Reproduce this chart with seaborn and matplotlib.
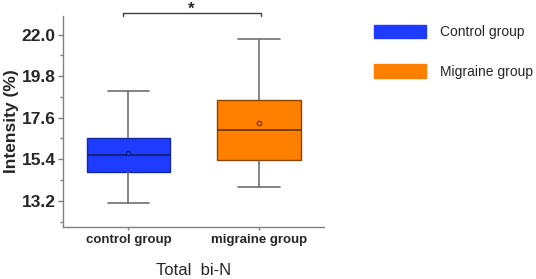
import numpy as np
import pandas as pd
import matplotlib
matplotlib.use('Agg')
import matplotlib.pyplot as plt
import seaborn as sns
from matplotlib.patches import Patch
from matplotlib.ticker import MultipleLocator

sns.set_style('ticks')
plt.rcParams['font.family'] = ['Liberation Sans', 'DejaVu Sans']

groups = ['control group', 'migraine group']
legend_labels = ['Control group', 'Migraine group']
whisker_low = [13.10, 13.92]
q1 = [14.74, 15.36]
median = [15.61, 16.95]
q3 = [16.51, 18.54]
whisker_high = [19.03, 21.77]
means = [15.75, 17.30]

face_colors = ['#1e3cff', '#ff8000']
edge_colors = ['#1428a0', '#8a4600']
median_colors = ['#142070', '#6e3800']
GRAY = '#707070'

# five values per group reproduce the read-off box statistics exactly
rows = []
for i, g in enumerate(groups):
    for v in [whisker_low[i], q1[i], median[i], q3[i], whisker_high[i]]:
        rows.append({'group': g, 'value': v})
df = pd.DataFrame(rows)

fig = plt.figure(figsize=(5.36, 2.79), dpi=100)
ax = fig.add_axes([0.118, 0.1875, 0.4865, 0.7552])

for i, g in enumerate(groups):
    sub = df[df['group'] == g]
    sns.boxplot(data=sub, x='group', y='value', order=groups, ax=ax,
                width=0.64, whis=np.inf, color=face_colors[i], saturation=1,
                linewidth=1.0, linecolor=edge_colors[i],
                boxprops=dict(facecolor=face_colors[i], edgecolor=edge_colors[i], linewidth=1.0),
                medianprops=dict(color=median_colors[i], linewidth=1.3),
                whiskerprops=dict(color=GRAY, linewidth=1.2),
                capprops=dict(color=GRAY, linewidth=1.2))
    sns.stripplot(x=[g], y=[means[i]], order=groups, ax=ax, jitter=False,
                  size=3.2, color=face_colors[i], edgecolor=median_colors[i],
                  linewidth=0.9, zorder=5)

ax.set_xlim(-0.5, 1.5)
ax.set_ylim(11.83, 22.98)
ax.yaxis.set_minor_locator(MultipleLocator(1.1))
ax.yaxis.set_major_formatter(matplotlib.ticker.FormatStrFormatter('%.1f'))
ax.set_yticks([13.2, 15.4, 17.6, 19.8, 22.0])

for s in ['top', 'right']:
    ax.spines[s].set_visible(False)
for s in ['left', 'bottom']:
    ax.spines[s].set_color('#808080')
    ax.spines[s].set_linewidth(1.0)

ax.tick_params(axis='y', which='major', length=3.5, width=1, color='#808080',
               labelsize=12.5, pad=2)
ax.tick_params(axis='y', which='minor', length=2.5, width=1, color='#808080')
ax.tick_params(axis='x', length=2.5, width=1, color='#808080', labelsize=9.5, pad=3)
for lab in ax.get_yticklabels() + ax.get_xticklabels():
    lab.set_fontweight('bold')

ax.set_xlabel('Total  bi-N', fontsize=12, labelpad=12)
ax.set_ylabel('Intensity (%)', fontsize=12.5, fontweight='bold', labelpad=2)

# significance bracket
ax.plot([-0.045, -0.045, 1.02, 1.02], [22.98, 23.12, 23.12, 22.98],
        color='#404040', linewidth=1.0, clip_on=False)
ax.text(0.48, 22.95, '*', ha='center', va='bottom', fontsize=12,
        fontweight='bold', clip_on=False)

handles = [Patch(facecolor=face_colors[i], edgecolor=face_colors[i], label=legend_labels[i])
           for i in range(2)]
fig.legend(handles=handles, loc='upper left', bbox_to_anchor=(0.697, 0.91),
           frameon=False, fontsize=10, handlelength=3.75, handleheight=1.1,
           handletextpad=1.0, labelspacing=1.8, borderpad=0, borderaxespad=0)

fig.savefig('out.png', dpi=100)
